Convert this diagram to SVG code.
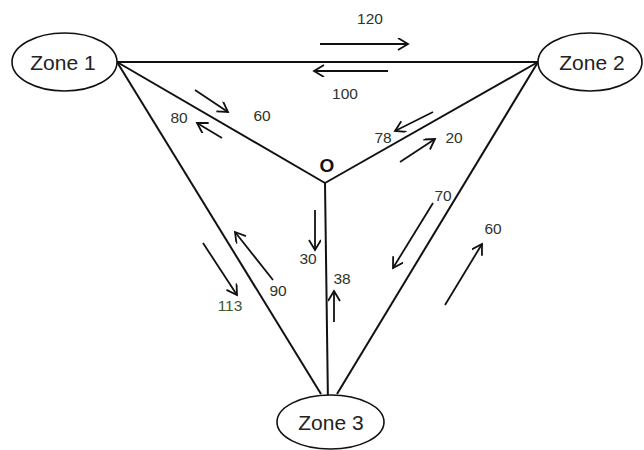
<svg xmlns="http://www.w3.org/2000/svg" width="644" height="450" viewBox="0 0 644 450">
<style>
.node ellipse{fill:#fff;stroke:#111;stroke-width:1.6}
.node text{font-family:"Liberation Sans",Arial,sans-serif;font-size:21px;fill:#222;text-anchor:middle;dominant-baseline:central}
.edge{stroke:#111;stroke-width:2;fill:none}
.flow{stroke:#111;stroke-width:1.8;fill:none;marker-end:url(#ah)}
.lbl{font-family:"Liberation Sans",Arial,sans-serif;font-size:15.5px;fill:#2c332c;text-anchor:middle;dominant-baseline:central}
</style>
<defs>
<marker id="ah" markerWidth="14" markerHeight="14" refX="11" refY="6" orient="auto" markerUnits="userSpaceOnUse">
<path d="M1,0 L11,6 L1,12" fill="none" stroke="#111" stroke-width="1.8"/>
</marker>
</defs>
<rect width="644" height="450" fill="#fff"/>
<g id="connectors">
<line class="edge" x1="117" y1="62" x2="538" y2="62"/>
<line class="edge" x1="117" y1="62" x2="325" y2="183"/>
<line class="edge" x1="325" y1="183" x2="538" y2="62"/>
<line class="edge" x1="117" y1="62" x2="321" y2="394"/>
<line class="edge" x1="538" y1="62" x2="337" y2="394"/>
<line class="edge" x1="325" y1="183" x2="328" y2="404"/>
<line class="flow" x1="320" y1="44" x2="408" y2="44"/>
<line class="flow" x1="388" y1="71" x2="314" y2="71"/>
<line class="flow" x1="195" y1="90" x2="228" y2="112"/>
<line class="flow" x1="222" y1="138" x2="197" y2="123"/>
<line class="flow" x1="433" y1="112" x2="395" y2="131"/>
<line class="flow" x1="400" y1="162" x2="435" y2="139"/>
<line class="flow" x1="433" y1="203" x2="393" y2="268"/>
<line class="flow" x1="445" y1="305" x2="482" y2="244"/>
<line class="flow" x1="203" y1="243" x2="237" y2="295"/>
<line class="flow" x1="273" y1="280" x2="235" y2="232"/>
<line class="flow" x1="315" y1="210" x2="315" y2="250"/>
<line class="flow" x1="334" y1="322" x2="334" y2="291"/>
</g>
<g id="labels">
<text class="lbl" x="370" y="18">120</text>
<text class="lbl" x="345" y="93">100</text>
<text class="lbl" x="179" y="117">80</text>
<text class="lbl" x="262" y="115">60</text>
<text class="lbl" x="383" y="137">78</text>
<text class="lbl" x="454" y="137">20</text>
<text class="lbl" x="443" y="195">70</text>
<text class="lbl" x="493" y="228">60</text>
<text class="lbl" x="230" y="305" style="fill:#3a5a2a">113</text>
<text class="lbl" x="278" y="290">90</text>
<text class="lbl" x="308" y="258">30</text>
<text class="lbl" x="342" y="278">38</text>
</g>
<g id="O"><text x="327" y="165" style="font-family:'Liberation Sans',Arial,sans-serif;font-size:19px;font-weight:bold;fill:#111;text-anchor:middle;dominant-baseline:central">O</text></g>
<g id="zone1" class="node"><ellipse cx="64.5" cy="62" rx="52.5" ry="29"/><text x="63" y="62">Zone 1</text></g>
<g id="zone2" class="node"><ellipse cx="590" cy="62" rx="52" ry="29"/><text x="592" y="62">Zone 2</text></g>
<g id="zone3" class="node"><ellipse cx="330.5" cy="422" rx="53.5" ry="27"/><text x="331" y="422">Zone 3</text></g>
</svg>
